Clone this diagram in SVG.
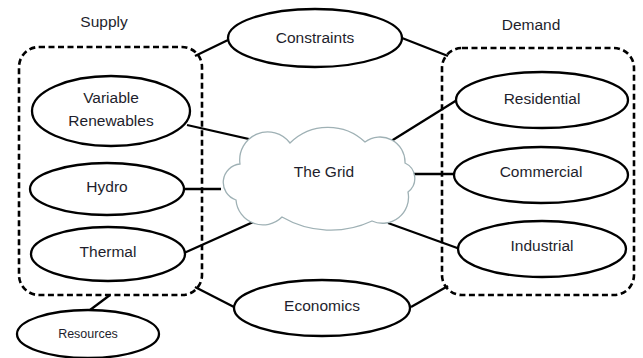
<svg xmlns="http://www.w3.org/2000/svg" width="643" height="358" viewBox="0 0 643 358">
<style>
.bg{fill:#ffffff}
.node{fill:#ffffff;stroke:#000000;stroke-width:2.3}
.group{fill:none;stroke:#000000;stroke-width:2.6;stroke-dasharray:6 3.5}
.cloud{fill:#ffffff;stroke:#9fb1b5;stroke-width:1.3}
.conn line{stroke:#000000;stroke-width:2.3;stroke-linecap:butt}
text{font-family:"Liberation Sans",Arial,sans-serif;font-size:15.5px;fill:#1e1e2c;text-anchor:middle}
.small{font-size:12.5px}
</style>
<rect class="bg" x="0" y="0" width="643" height="358"/>
<g id="supply-group">
  <rect class="group" x="19" y="47" width="183" height="248" rx="20" ry="20"/>
  <text x="104" y="27">Supply</text>
</g>
<g id="demand-group">
  <rect class="group" x="442" y="48" width="192" height="247" rx="20" ry="20"/>
  <text x="531" y="30">Demand</text>
</g>
<g id="connectors" class="conn">
  <line x1="228" y1="40" x2="195" y2="56"/>
  <line x1="402" y1="38" x2="448" y2="56"/>
  <line x1="187" y1="125" x2="262" y2="142"/>
  <line x1="184" y1="189" x2="221" y2="189"/>
  <line x1="184" y1="253" x2="262" y2="218"/>
  <line x1="110" y1="295" x2="90" y2="310"/>
  <line x1="195" y1="287" x2="234" y2="307"/>
  <line x1="411" y1="307" x2="448" y2="286"/>
  <line x1="457" y1="100" x2="388" y2="143"/>
  <line x1="412" y1="174" x2="454" y2="174"/>
  <line x1="388" y1="223" x2="460" y2="249"/>
</g>
<g id="constraints">
  <ellipse class="node" cx="315" cy="38" rx="87" ry="29"/>
  <text x="315" y="43">Constraints</text>
</g>
<g id="variable-renewables">
  <ellipse class="node" cx="111" cy="111" rx="79" ry="35"/>
  <text x="111" y="103">Variable</text>
  <text x="111" y="126">Renewables</text>
</g>
<g id="hydro">
  <ellipse class="node" cx="107" cy="189" rx="77" ry="26"/>
  <text x="107" y="192">Hydro</text>
</g>
<g id="thermal">
  <ellipse class="node" cx="108" cy="254" rx="77" ry="27"/>
  <text x="108" y="257">Thermal</text>
</g>
<g id="resources">
  <ellipse class="node" cx="88" cy="334" rx="71" ry="24"/>
  <text class="small" x="88" y="338">Resources</text>
</g>
<g id="economics">
  <ellipse class="node" cx="322" cy="308" rx="88" ry="28"/>
  <text x="322" y="311">Economics</text>
</g>
<g id="residential">
  <ellipse class="node" cx="542" cy="100" rx="86" ry="28"/>
  <text x="542" y="104">Residential</text>
</g>
<g id="commercial">
  <ellipse class="node" cx="541" cy="175" rx="87" ry="28"/>
  <text x="541" y="177">Commercial</text>
</g>
<g id="industrial">
  <ellipse class="node" cx="542" cy="249" rx="84" ry="28"/>
  <text x="542" y="251">Industrial</text>
</g>
<g id="the-grid">
  <path class="cloud" d="M240,164 A28,28 0 0 1 290,143 A54,54 0 0 1 365,142 A25,25 0 0 1 405,163 A17,17 0 0 1 408,192 A26,26 0 0 1 372,221 A97,97 0 0 1 282,217 A27,27 0 0 1 236,200 A18.5,18.5 0 0 1 240,164 Z"/>
  <text x="324" y="177">The Grid</text>
</g>
</svg>
